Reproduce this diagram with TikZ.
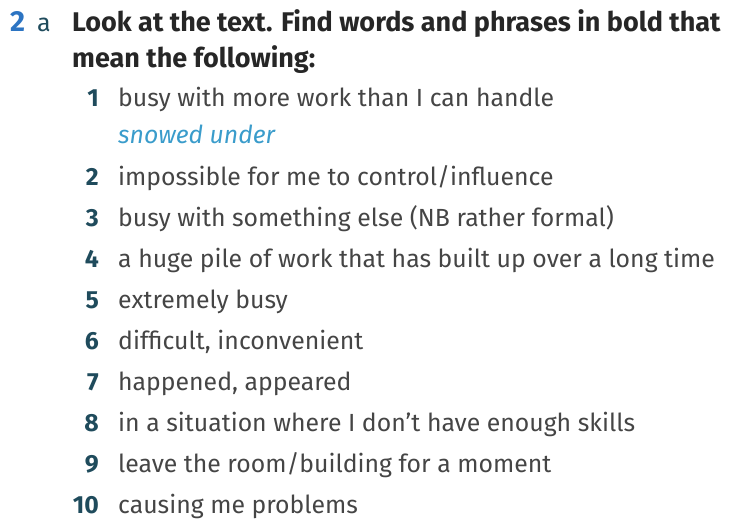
\documentclass[tikz,border=0pt]{standalone}
\usepackage{fontspec}
\setmainfont{Fira Sans}
\definecolor{bodycol}{HTML}{454545}
\definecolor{headcol}{HTML}{262626}
\definecolor{numcol}{HTML}{1F4B5C}
\definecolor{bluecol}{HTML}{2C74C2}
\definecolor{anscol}{HTML}{3A9CCB}
\begin{document}
\begin{tikzpicture}[x=1pt,y=-1pt,
  num/.style={anchor=base east, inner sep=0pt, text=numcol, font=\fontsize{24.8}{30}\selectfont\bfseries},
  txt/.style={anchor=base west, inner sep=0pt, text=bodycol, font=\fontsize{24.8}{30}\selectfont},
  head/.style={anchor=base west, inner sep=0pt, text=headcol, font=\fontsize{27}{32}\selectfont\bfseries},
  ans/.style={anchor=base west, inner sep=0pt, text=anscol, font=\fontsize{24.8}{30}\selectfont\itshape}]
\useasboundingbox (0,0) rectangle (751,522);
\node[anchor=base west, inner sep=0pt, text=bluecol, font=\fontsize{29}{32}\selectfont\bfseries] (ex) at (10,31) {2};
\node[anchor=base west, inner sep=0pt, text=numcol, font=\fontsize{25}{30}\selectfont] (exa) at (37,31) {a};
\node[head] (h1) at (72,31) {Look at the text. Find words and phrases in bold that};
\node[head] (h2) at (72,67) {mean the following:};
\node[num] (n1) at (99,106) {1};
\node[txt] (t1) at (118,106) {busy with more work than I can handle};
\node[ans] (a1) at (118,143) {snowed under};
\node[num] (n2) at (99,185) {2};
\node[txt] (t2) at (118,185) {impossible for me to control/influence};
\node[num] (n3) at (99,226) {3};
\node[txt] (t3) at (118,226) {busy with something else (NB rather formal)};
\node[num] (n4) at (99,267) {4};
\node[txt] (t4) at (118,267) {a huge pile of work that has built up over a long time};
\node[num] (n5) at (99,308) {5};
\node[txt] (t5) at (118,308) {extremely busy};
\node[num] (n6) at (99,349) {6};
\node[txt] (t6) at (118,349) {difficult, inconvenient};
\node[num] (n7) at (99,390) {7};
\node[txt] (t7) at (118,390) {happened, appeared};
\node[num] (n8) at (99,431) {8};
\node[txt] (t8) at (118,431) {in a situation where I don’t have enough skills};
\node[num] (n9) at (99,472) {9};
\node[txt] (t9) at (118,472) {leave the room/building for a moment};
\node[num] (n10) at (99,513) {10};
\node[txt] (t10) at (118,513) {causing me problems};
\end{tikzpicture}
\end{document}
